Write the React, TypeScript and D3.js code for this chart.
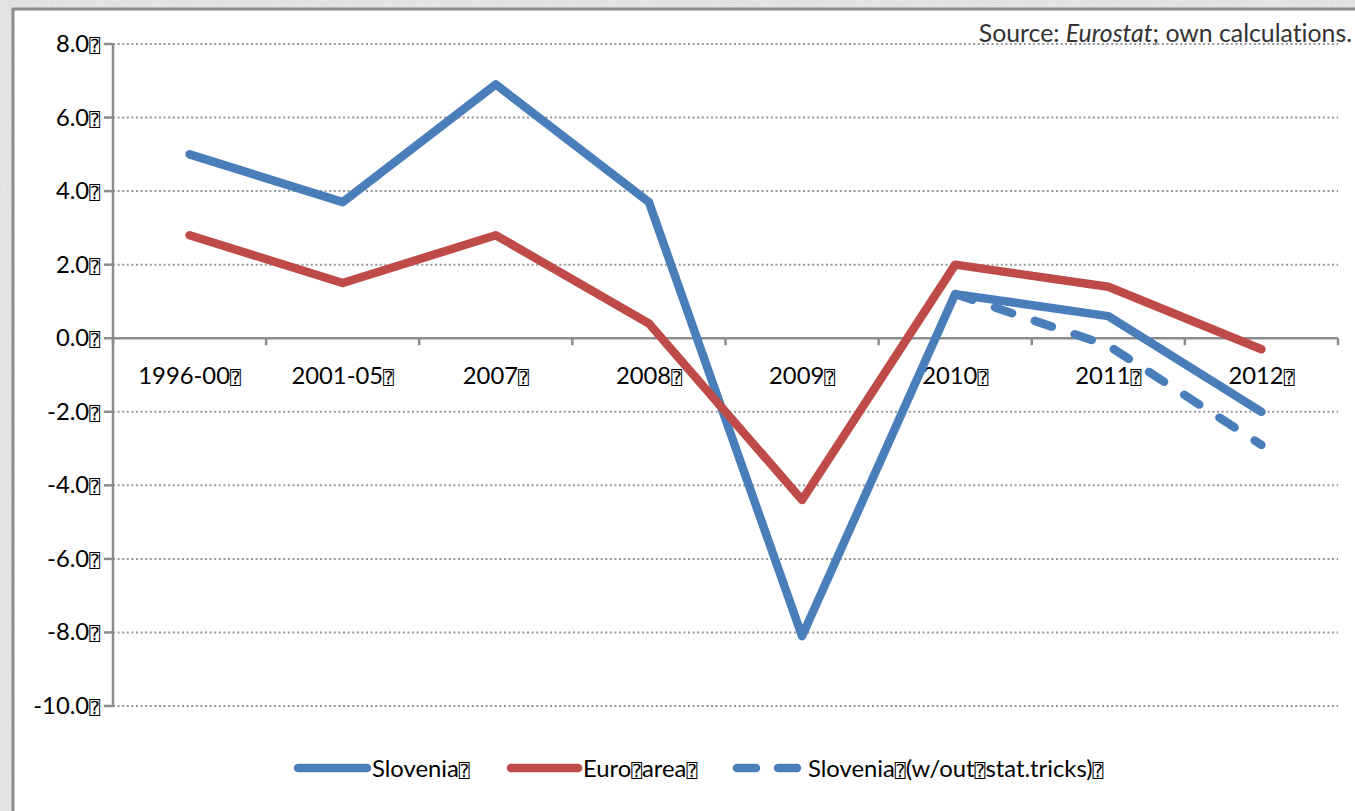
import React from "react";
import * as d3 from "d3";

// Real GDP growth, % — Slovenia vs. euro area
const categories = ["1996-00", "2001-05", "2007", "2008", "2009", "2010", "2011", "2012"];
const slovenia = [5.0, 3.7, 6.9, 3.7, -8.1, 1.2, 0.6, -2.0];
const euroArea = [2.8, 1.5, 2.8, 0.4, -4.4, 2.0, 1.4, -0.3];
const sloveniaAdj: (number | null)[] = [null, null, null, null, null, 1.2, -0.2, -2.9];
const yTicks = [8, 6, 4, 2, 0, -2, -4, -6, -8, -10];

const W = 1355;
const H = 811;
const BLUE = "#4a7ebb";
const RED = "#be4b48";
const AXIS = "#8c8c8c";
const FONT = "Lato, 'Open Sans', sans-serif";
const TOFU = "\u2370";
const LW = 8.5;

const Tofu = () => (
  <tspan fontFamily="'DejaVu Sans Mono', 'DejaVu Sans'" fontSize={18} fill="#000">
    {TOFU}
  </tspan>
);

export default function App() {
  const left = 113;
  const right = 1338;
  const x = d3.scaleBand<string>().domain(categories).range([left, right]);
  const y = d3.scaleLinear().domain([-10, 8]).range([706, 44]);
  const cx = (c: string) => (x(c) ?? 0) + x.bandwidth() / 2;

  const line = d3
    .line<number | null>()
    .defined((d) => d !== null)
    .x((_, i) => cx(categories[i]))
    .y((d) => y(d as number));

  const boundaries = categories.map((c) => x(c) ?? 0).concat([right]);

  return (
    <svg
      width={W}
      height={H}
      style={{ position: "absolute", left: 0, top: 0, display: "block", fontVariantLigatures: "none" }}
      fontFamily={FONT}
    >
      <defs>
        <filter id="paper" x="0" y="0" width="100%" height="100%">
          <feTurbulence type="fractalNoise" baseFrequency="0.6" numOctaves={3} seed={4} result="n" />
          <feColorMatrix
            in="n"
            type="matrix"
            values="0 0 0 0 0.72  0 0 0 0 0.72  0 0 0 0 0.72  0 0 0 -2.2 1.4"
          />
        </filter>
      </defs>

      {/* textured backdrop */}
      <rect x={0} y={0} width={W} height={H} fill="#e6e6e6" />
      <rect x={0} y={0} width={W} height={H} filter="url(#paper)" />

      {/* chart panel */}
      <rect x={13} y={9} width={W} height={H} fill="#ffffff" stroke={AXIS} strokeWidth={3} />

      {/* source note */}
      <text x={1352} y={42} textAnchor="end" fontSize={24.8} fill="#333">
        Source: <tspan fontStyle="italic">Eurostat</tspan>; own calculations.
      </text>

      {/* gridlines */}
      {yTicks
        .filter((t) => t !== 0)
        .map((t) => (
          <line
            key={`g${t}`}
            x1={left}
            x2={right}
            y1={y(t)}
            y2={y(t)}
            stroke="#969696"
            strokeWidth={2}
            strokeDasharray="2 2.6"
          />
        ))}

      {/* y axis */}
      <line x1={left} x2={left} y1={y(8)} y2={y(-10)} stroke={AXIS} strokeWidth={2.5} />
      {yTicks.map((t) => (
        <g key={`t${t}`}>
          <line x1={left - 9} x2={left} y1={y(t)} y2={y(t)} stroke={AXIS} strokeWidth={2.5} />
          <text x={100} y={y(t) + 8} textAnchor="end" fontSize={23.8} fill="#000">
            {t.toFixed(1)}
            <Tofu />
          </text>
        </g>
      ))}

      {/* x axis at zero */}
      <line x1={left} x2={right} y1={y(0)} y2={y(0)} stroke={AXIS} strokeWidth={2.5} />
      {boundaries.map((b, i) => (
        <line key={`xb${i}`} x1={b} x2={b} y1={y(0)} y2={y(0) + 7} stroke={AXIS} strokeWidth={2.5} />
      ))}
      {categories.map((c) => (
        <text key={c} x={cx(c)} y={384} textAnchor="middle" fontSize={23.8} fill="#000">
          {c}
          <Tofu />
        </text>
      ))}

      {/* series */}
      <path d={line(slovenia) ?? ""} fill="none" stroke={BLUE} strokeWidth={LW} strokeLinecap="round" strokeLinejoin="round" />
      <path d={line(euroArea) ?? ""} fill="none" stroke={RED} strokeWidth={LW} strokeLinecap="round" strokeLinejoin="round" />
      <path
        d={line(sloveniaAdj) ?? ""}
        fill="none"
        stroke={BLUE}
        strokeWidth={LW}
        strokeLinecap="round"
        strokeLinejoin="round"
        strokeDasharray="18 24"
      />

      {/* legend */}
      <g fontSize={23.8} fill="#000">
        <line x1={298} x2={367} y1={768} y2={768} stroke={BLUE} strokeWidth={LW} strokeLinecap="round" />
        <text x={372} y={777}>
          Slovenia
          <Tofu />
        </text>
        <line x1={511} x2={578} y1={768} y2={768} stroke={RED} strokeWidth={LW} strokeLinecap="round" />
        <text x={583} y={777}>
          Euro
          <Tofu />
          area
          <Tofu />
        </text>
        <line
          x1={737}
          x2={798}
          y1={768}
          y2={768}
          stroke={BLUE}
          strokeWidth={LW}
          strokeLinecap="round"
          strokeDasharray="19 22"
        />
        <text x={808} y={777}>
          Slovenia
          <Tofu />
          (w/out
          <Tofu />
          stat.tricks)
          <Tofu />
        </text>
      </g>
    </svg>
  );
}
